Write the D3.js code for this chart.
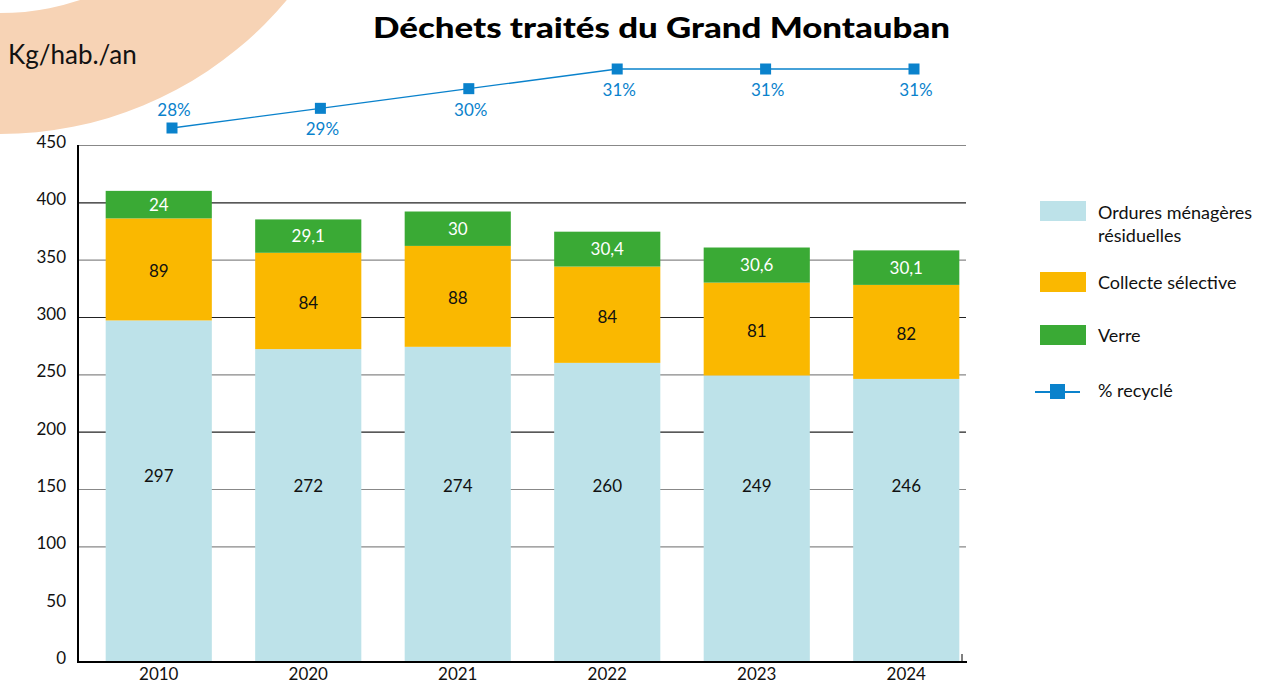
<!DOCTYPE html>
<html>
<head>
<meta charset="utf-8">
<script src="https://cdn.jsdelivr.net/npm/d3@7"></script>
<style>
  body { margin: 0; background: #fff; }
  text { font-family: Lato, "Open Sans", sans-serif; }
</style>
</head>
<body>
<script>
// data
var years = ["2010", "2020", "2021", "2022", "2023", "2024"];
var omr = [297, 272, 274, 260, 249, 246];
var collecte = [89, 84, 88, 84, 81, 82];
var verre = [24, 29.1, 30, 30.4, 30.6, 30.1];
var recycle = [28, 29, 30, 31, 31, 31];
var yTicks = [0, 50, 100, 150, 200, 250, 300, 350, 400, 450];
var seriesNames = ["Ordures ménagères résiduelles", "Collecte sélective", "Verre"];
var seriesColors = ["#bde2e9", "#fab800", "#3aaa35"];
var lineColor = "#0a82cc";

var W = 1267, H = 684;
var svg = d3.select("body").append("svg")
    .attr("width", W).attr("height", H);

// peach ring in the corner
var ring = d3.arc().innerRadius(253).outerRadius(374)
    .startAngle(Math.PI / 2).endAngle(Math.PI);
svg.append("path")
    .attr("d", ring())
    .attr("transform", "translate(0,-240)")
    .attr("fill", "#f7d3b5");

var fr = d3.formatLocale({decimal: ",", thousands: " ", grouping: [3], currency: ["", " €"]});
var fmt = function (v) { return Number.isInteger(v) ? String(v) : fr.format(".1f")(v); };

var x = d3.scaleBand().domain(years).range([84, 981]).paddingInner(0.29).paddingOuter(0.145);
var y = d3.scaleLinear().domain([0, 450]).range([661, 145]);
var xl = d3.scalePoint().domain(years).range([172, 914]);
var yl = d3.scaleLinear().domain([28, 31]).range([128, 69]);

// gridlines
svg.append("g").selectAll("line")
    .data(yTicks.filter(function (d) { return d >= 100; }))
    .enter().append("line")
    .attr("x1", 78).attr("x2", 966)
    .attr("y1", function (d) { return y(d) + 0.5; })
    .attr("y2", function (d) { return y(d) + 0.5; })
    .attr("stroke", function (d) { return (d % 100 === 0 && d >= 200) ? "#222" : "#888"; })
    .attr("stroke-width", 1.2);

// stacked bars
var rows = years.map(function (yr, i) {
    return {year: yr, omr: omr[i], collecte: collecte[i], verre: verre[i]};
});
var keys = ["omr", "collecte", "verre"];
var stacked = d3.stack().keys(keys)(rows);

var layer = svg.append("g").selectAll("g")
    .data(stacked).enter().append("g")
    .attr("fill", function (d, i) { return seriesColors[i]; });

layer.selectAll("rect")
    .data(function (d) { return d; })
    .enter().append("rect")
    .attr("x", function (d) { return x(d.data.year); })
    .attr("width", x.bandwidth())
    .attr("y", function (d) { return y(d[1]); })
    .attr("height", function (d) { return y(d[0]) - y(d[1]); });

// value labels
stacked.forEach(function (s, si) {
    svg.append("g").selectAll("text")
        .data(s).enter().append("text")
        .attr("x", function (d) { return x(d.data.year) + x.bandwidth() / 2; })
        .attr("y", function (d) {
            var mid = (y(d[0]) + y(d[1])) / 2;
            if (si === 0) mid = Math.min(mid - 15, y(153));
            if (si === 1) mid += 2;
            return mid;
        })
        .attr("dy", "0.35em")
        .attr("text-anchor", "middle")
        .attr("font-size", 17)
        .attr("fill", si === 2 ? "#fff" : "#111")
        .text(function (d) { return fmt(d.data[s.key]); });
});

// axes lines
svg.append("line").attr("x1", 78).attr("x2", 78).attr("y1", 145).attr("y2", 662)
    .attr("stroke", "#000").attr("stroke-width", 2);
svg.append("line").attr("x1", 77).attr("x2", 967).attr("y1", 662).attr("y2", 662)
    .attr("stroke", "#000").attr("stroke-width", 2);
svg.append("line").attr("x1", 962).attr("x2", 962).attr("y1", 654).attr("y2", 662)
    .attr("stroke", "#000").attr("stroke-width", 1);

// y tick labels
svg.append("g").selectAll("text")
    .data(yTicks).enter().append("text")
    .attr("x", 66)
    .attr("y", function (d) { return y(d) - 3; })
    .attr("dy", "0.35em")
    .attr("text-anchor", "end")
    .attr("font-size", 17)
    .attr("fill", "#111")
    .text(function (d) { return d; });

// x labels
svg.append("g").selectAll("text")
    .data(years).enter().append("text")
    .attr("x", function (d) { return x(d) + x.bandwidth() / 2; })
    .attr("y", 680)
    .attr("text-anchor", "middle")
    .attr("font-size", 17)
    .attr("fill", "#111")
    .text(function (d) { return d; });

// recycling line
var line = d3.line()
    .x(function (d, i) { return xl(years[i]); })
    .y(function (d) { return yl(d); });
svg.append("path").datum(recycle)
    .attr("d", line)
    .attr("fill", "none")
    .attr("stroke", lineColor)
    .attr("stroke-width", 1.3);
svg.append("g").selectAll("rect")
    .data(recycle).enter().append("rect")
    .attr("x", function (d, i) { return xl(years[i]) - 5.5; })
    .attr("y", function (d) { return yl(d) - 5.5; })
    .attr("width", 11).attr("height", 11)
    .attr("fill", lineColor);
svg.append("g").selectAll("text")
    .data(recycle).enter().append("text")
    .attr("x", function (d, i) { return xl(years[i]) + 2; })
    .attr("y", function (d, i) { return i === 0 ? yl(d) - 12 : yl(d) + 27; })
    .attr("text-anchor", "middle")
    .attr("font-size", 17)
    .attr("fill", lineColor)
    .text(function (d) { return d + "%"; });

// titles
svg.append("text")
    .attr("x", 373).attr("y", 38)
    .attr("font-size", 29)
    .attr("font-weight", 900)
    .attr("textLength", 577)
    .attr("lengthAdjust", "spacingAndGlyphs")
    .attr("fill", "#000")
    .text("Déchets traités du Grand Montauban");
svg.append("text")
    .attr("x", 8).attr("y", 64)
    .attr("font-size", 26)
    .attr("fill", "#111")
    .text("Kg/hab./an");

// legend
var lg = svg.append("g");
var legY = [201, 272, 325];
seriesNames.forEach(function (name, i) {
    lg.append("rect")
        .attr("x", 1040).attr("y", legY[i])
        .attr("width", 46).attr("height", 20)
        .attr("fill", seriesColors[i]);
});
lg.append("text").attr("x", 1098).attr("y", 219).attr("font-size", 18).attr("fill", "#111")
    .text("Ordures ménagères");
lg.append("text").attr("x", 1098).attr("y", 242).attr("font-size", 18).attr("fill", "#111")
    .text("résiduelles");
lg.append("text").attr("x", 1098).attr("y", 289).attr("font-size", 18).attr("fill", "#111")
    .text(seriesNames[1]);
lg.append("text").attr("x", 1098).attr("y", 342).attr("font-size", 18).attr("fill", "#111")
    .text(seriesNames[2]);
lg.append("line").attr("x1", 1035).attr("x2", 1080).attr("y1", 392).attr("y2", 392)
    .attr("stroke", lineColor).attr("stroke-width", 2);
lg.append("rect").attr("x", 1050).attr("y", 384).attr("width", 15).attr("height", 15)
    .attr("fill", lineColor);
lg.append("text").attr("x", 1098).attr("y", 397).attr("font-size", 18).attr("fill", "#111")
    .text("% recyclé");
</script>
</body>
</html>
